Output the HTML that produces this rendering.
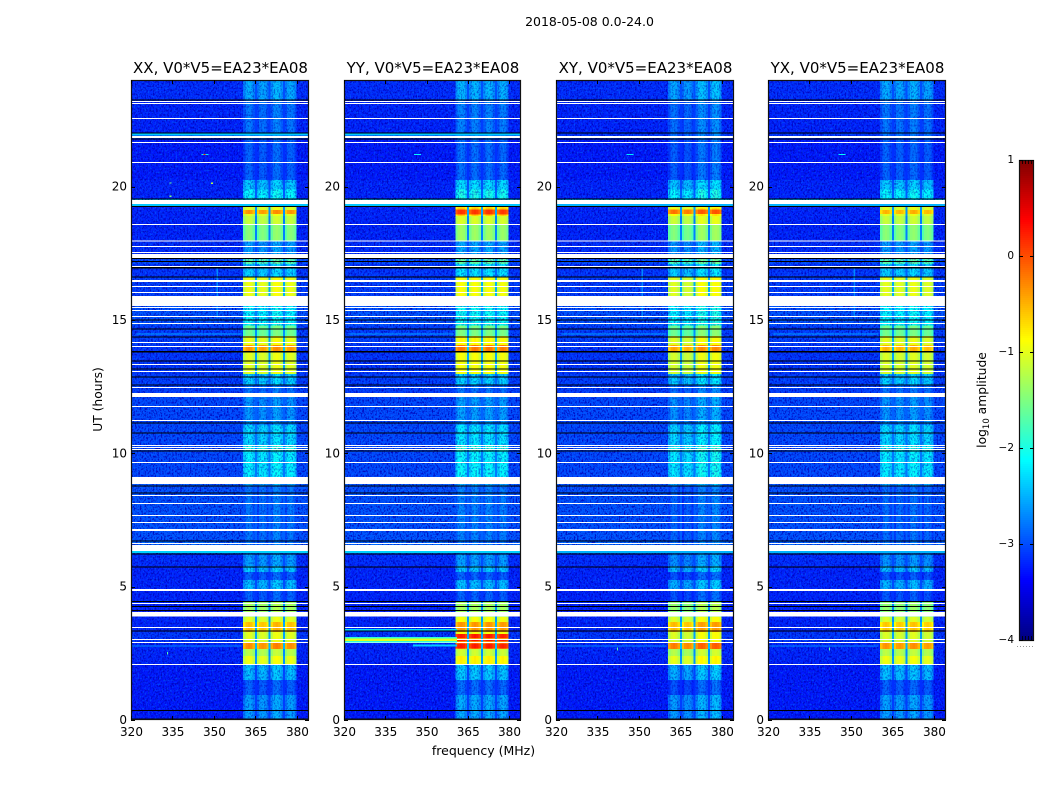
<!DOCTYPE html>
<html lang="en">
<head>
<meta charset="utf-8">
<title>Dynamic spectra 2018-05-08</title>
<style>
html,body{margin:0;padding:0;background:#fff;width:1050px;height:800px;overflow:hidden}
svg{display:block;font-family:"DejaVu Sans","Liberation Sans",sans-serif;fill:#000}
</style>
</head>
<body>
<svg id="chart" xmlns="http://www.w3.org/2000/svg" width="1050" height="800" viewBox="0 0 1050 800">
<defs id="defs">
<filter id="noise-dark" x="0" y="0" width="100%" height="100%" color-interpolation-filters="sRGB">
<feTurbulence type="fractalNoise" baseFrequency="0.62 0.48" numOctaves="2" seed="4"/>
<feColorMatrix type="matrix" values="0 0 0 0 0  0 0 0 0 0  0 0 0 0 0.72  4.2 0 0 0 -1.95"/>
</filter>
<filter id="noise-light" x="0" y="0" width="100%" height="100%" color-interpolation-filters="sRGB">
<feTurbulence type="fractalNoise" baseFrequency="0.58 0.5" numOctaves="2" seed="11"/>
<feColorMatrix type="matrix" values="0 0 0 0 0  0 0 0 0 0.45  0 0 0 0 1  0 4.2 0 0 -2.2"/>
</filter>
</defs>
<text x="589.5" y="26" font-size="12.5" text-anchor="middle">2018-05-08 0.0-24.0</text>
<text x="483.5" y="755" font-size="12.5" text-anchor="middle">frequency (MHz)</text>
<text transform="translate(102,399.5) rotate(-90)" font-size="12.3" text-anchor="middle">UT (hours)</text>
<text transform="translate(986,400) rotate(-90)" font-size="12.3" text-anchor="middle">log<tspan font-size="8.5" dy="3">10</tspan><tspan dy="-3"> amplitude</tspan></text>
<g id="panels"></g>
<g id="colorbar"></g>
</svg>
<script>
/* ---------- data ---------- */
const panelNames = ["XX", "YY", "XY", "YX"];
const panelTitleSuffix = ", V0*V5=EA23*EA08";
const freqTicks = [320, 335, 350, 365, 380];
const hourTicks = [0, 5, 10, 15, 20];
const colorbarTicks = [1, 0, -1, -2, -3, -4];

/* start hour of each time block (the last ends at 24 h) */
const blockStart = [0,0.94,1.5,2.06,2.4,2.66,2.89,3.3,3.68,3.86,4.46,4.88,5.25,5.55,5.78,6.2,6.71,8.775,9.11,10.09,10.3,11.06,12.11,12.56,12.97,13.81,14.06,14.4,14.8,15.53,15.9,16.6,17.1,17.31,17.97,18.9,19.2,19.35,19.54,19.9,20.25,21.8,22.01,23.25];
/* log10 amplitude away from the bands */
const backgroundLog = [-3.25,-3.25,-3.25,-3.2,-3.2,-3.2,-3.1,-3.2,-3.2,-3.2,-3.2,-3.2,-3.2,-3.2,-3.15,-2.85,-2.95,-2.9,-3,-3,-3,-3,-3.05,-3.05,-3.1,-3.1,-3.05,-3.05,-2.95,-2.95,-3.05,-3.1,-3,-3.15,-3.2,-3.2,-3.2,-2.25,-3.2,-3.2,-3.25,-3.1,-3.2,-3.15];
/* log10 amplitude inside the four bands, one array per polarisation */
const bandLogXX = [-2.55,-2.85,-2.4,-0.95,-1.2,-0.3,-1,-0.55,-1,-1.3,-2.85,-2.4,-2.85,-2.35,-2.55,-2.75,-2.75,-2.5,-2.15,-1.95,-2.25,-2.6,-2.75,-2.3,-1,-0.35,-0.95,-1.55,-2.1,-2.1,-0.95,-2.3,-1.7,-2.55,-1.45,-1,-1,-2.3,-2.1,-2.35,-2.85,-2.75,-2.75,-2.5];
const bandLogYY = [-2.5,-2.8,-2.35,-0.8,-1.1,-0.05,-0.9,-0.35,-0.9,-1.3,-2.85,-2.4,-2.85,-2.35,-2.55,-2.75,-2.7,-2.5,-2.1,-1.9,-2.2,-2.55,-2.75,-2.3,-0.9,-0.2,-0.85,-1.5,-2.05,-2.05,-0.9,-2.2,-1.65,-2.5,-1.35,-0.6,-0.7,-2.3,-2,-2.25,-2.8,-2.7,-2.7,-2.45];
const bandLogXY = [-2.55,-2.9,-2.45,-0.95,-1.2,-0.2,-1,-0.5,-1,-1.35,-2.9,-2.45,-2.9,-2.4,-2.6,-2.75,-2.8,-2.5,-2.15,-2,-2.25,-2.6,-2.75,-2.3,-1.05,-0.4,-1,-1.55,-2.1,-2.1,-1,-2.3,-1.7,-2.55,-1.45,-0.85,-1,-2.3,-2.1,-2.35,-2.85,-2.75,-2.75,-2.5];
const bandLogYX = [-2.55,-2.85,-2.4,-0.95,-1.2,-0.35,-1.05,-0.6,-1.05,-1.4,-2.9,-2.45,-2.9,-2.4,-2.6,-2.75,-2.8,-2.5,-2.15,-2,-2.25,-2.6,-2.75,-2.3,-1.05,-0.5,-1,-1.55,-2.1,-2.1,-1,-2.3,-1.7,-2.55,-1.45,-1,-1,-2.3,-2.1,-2.35,-2.85,-2.75,-2.75,-2.5];
const bandOffsets = [[0,-0.05,0.05,-0.02],[0,0,0,-0.03],[-0.03,-0.1,0.1,0.12],[0,-0.03,0.03,-0.05]];
/* shape across one band, equal slices, added to the band log10 amplitude */
const bandProfile = [-0.22, -0.03, 0.02, -0.03, -0.2];
/* narrow bright or dim streaks across the bands: [panel, start h, end h, log10 amp] */
const bandStreaks = [
 [0,18.97,19.13,-0.35],[1,18.95,19.15,0.12],[2,18.97,19.14,-0.15],[3,18.97,19.13,-0.5],
 [0,18.6,18.9,-1.15],[1,18.6,18.9,-1.05],[2,18.6,18.9,-1.1],[3,18.6,18.9,-1.15],
 [1,3.05,3.22,0.25],[1,2.95,3.0,0.3],[1,2.7,2.85,0.25]
];
/* channel edges in MHz: band edges with small gutters between the bands */
const bandStartMHz = [360.5, 365.5, 370.5, 375.6];
const bandEndMHz = [364.8, 369.8, 374.9, 379.9];
const freqMinMHz = 320;
const freqMaxMHz = 384;
/* bands brighter than this show no visible speckle */
const speckleCeilingLog = -1.6;

/* flagged time ranges, [start hour, end hour] */
const flaggedWhite = [[23.17,23.21],[23.10,23.14],[22.54,22.58],[21.82,21.90],[21.64,21.68],[20.89,20.93],[19.35,19.5],[18.56,18.6],[17.94,17.98],[17.74,17.78],[17.51,17.55],[17.33,17.48],[16.99,17.03],[16.43,16.5],[16.24,16.28],[16.01,16.05],[15.53,15.9],[15.45,15.49],[15.34,15.38],[15.11,15.15],[14.85,14.89],[14.14,14.18],[13.99,14.03],[13.31,13.35],[13.05,13.09],[12.45,12.49],[12.11,12.26],[11.74,11.78],[11.21,11.25],[10.28,10.31],[10.2,10.24],[10.13,10.16],[9.64,9.68],[8.85,9.11],[8.4,8.44],[8.1,8.14],[7.65,7.69],[7.39,7.43],[7.09,7.16],[6.6,6.64],[6.34,6.56],[4.84,4.91],[4.35,4.39],[3.88,4.05],[3.45,3.49],[3.0,3.04],[2.89,2.93],[2.06,2.1]];
const flaggedBlack = [[23.23,23.27],[21.99,22.03],[21.77,21.81],[19.52,19.56],[19.24,19.28],[17.29,17.33],[17.18,17.22],[16.94,16.98],[16.59,16.63],[14.98,15.02],[14.64,14.68],[14.34,14.38],[13.79,13.83],[13.44,13.48],[13.14,13.18],[12.85,12.89],[12.54,12.58],[11.12,11.16],[10.74,10.78],[10.07,10.11],[8.76,8.8],[8.5,8.54],[6.69,6.73],[6.2,6.25],[5.72,5.76],[4.42,4.46],[4.23,4.27],[4.08,4.12],[3.32,3.36],[0.33,0.37],[0,0.06]];

/* interference under the flags: [panel, start h, end h, start MHz, end MHz, log10 amp] */
const rfiUnder = [
 [0,21.92,22.0,320,384,-2.4],[1,21.92,22.0,320,384,-2.4],
 [0,19.28,19.35,320,384,-2.4],[1,19.28,19.35,320,384,-2.4],[2,19.28,19.35,320,384,-2.5],[3,19.28,19.35,320,384,-2.5],
 [0,6.26,6.34,320,384,-2.35],[1,6.26,6.34,320,384,-2.35],[2,6.26,6.34,320,384,-2.5],[3,6.26,6.34,320,384,-2.5],
 [1,3.36,3.42,320,361,-2.3],[1,2.76,2.84,345,361,-2.4],
 [0,15.1,16.95,351,351.5,-2.7],[3,15.1,16.95,351,351.5,-2.7],[2,15.1,16.95,351,351.5,-2.7],
 [0,14.45,14.5,322,360,-2.6],[1,14.45,14.5,322,360,-2.6],[2,14.45,14.5,322,360,-2.6],[3,14.45,14.5,322,360,-2.6],
 [0,2.75,2.8,320,360,-2.7],[2,2.75,2.8,320,360,-2.7],[3,2.75,2.8,320,360,-2.7]
];
/* interference over the flags */
const rfiOver = [
 [1,2.91,3.11,320,361,-1.9],[1,2.97,3.05,320,361,-1.0],
 [0,21.18,21.22,345.5,348,-2.2],[0,21.18,21.22,346.3,347,0.2],[1,21.18,21.22,345.5,348,-2.1],[2,21.18,21.22,345.5,348,-2.2],[3,21.18,21.22,345.5,348,-2.1],
 [0,20.11,20.15,334,334.6,-1.6],[0,19.62,19.66,334,334.6,-1.5],[0,20.1,20.15,349,349.6,-1.2],
 [0,2.45,2.55,333,333.4,-1.7],[2,2.6,2.72,342,342.5,-1.7],[3,2.6,2.72,342,342.5,-1.7]
];

/* ---------- layout ---------- */
const panelLeft = [131, 344, 556, 768];
const panelRight = [308, 520, 733, 945];
const plotTop = 80;
const plotBottom = 720;
const hoursMax = 24;
const cbLeft = 1019, cbRight = 1034, cbTop = 160, cbBottom = 640;
const cbMax = 1, cbMin = -4;
const SVGNS = "http://www.w3.org/2000/svg";

function xScale(panel, mhz) {
  return panelLeft[panel] + (mhz - freqMinMHz) / (freqMaxMHz - freqMinMHz) * (panelRight[panel] - panelLeft[panel]);
}
function yScale(hour) {
  return plotBottom - hour / hoursMax * (plotBottom - plotTop);
}
function cbScale(v) {
  return cbTop + (cbMax - v) / (cbMax - cbMin) * (cbBottom - cbTop);
}
function clamp01(v) { return Math.max(0, Math.min(1, v)); }
function jet(logAmp) {
  const t = clamp01((logAmp - cbMin) / (cbMax - cbMin));
  const r = clamp01(Math.min(4 * t - 1.5, -4 * t + 4.5));
  const g = clamp01(Math.min(4 * t - 0.5, -4 * t + 3.5));
  const b = clamp01(Math.min(4 * t + 0.5, -4 * t + 2.5));
  return "rgb(" + Math.round(r * 255) + "," + Math.round(g * 255) + "," + Math.round(b * 255) + ")";
}
function make(parent, tag, attrs, text) {
  const el = document.createElementNS(SVGNS, tag);
  for (const k in attrs) el.setAttribute(k, attrs[k]);
  if (text !== undefined) el.textContent = text;
  parent.appendChild(el);
  return el;
}
function cellRect(parent, panel, h0, h1, f0, f1, fill) {
  const x0 = xScale(panel, f0), x1 = xScale(panel, f1), yTop = yScale(h1), yBot = yScale(h0);
  return make(parent, "rect", {
    x: x0.toFixed(2), y: yTop.toFixed(2),
    width: (x1 - x0).toFixed(2), height: Math.max(1, yBot - yTop).toFixed(2),
    fill: fill, "shape-rendering": "crispEdges"
  });
}
function blockEnd(i) {
  return i + 1 < blockStart.length ? blockStart[i + 1] : hoursMax;
}
/* paints one band across its profile slices for a time range */
function drawBandSlices(parent, panel, band, h0, h1, level) {
  const f0 = bandStartMHz[band], f1 = bandEndMHz[band];
  const step = (f1 - f0) / bandProfile.length;
  bandProfile.forEach(function (shape, s) {
    const cell = cellRect(parent, panel, h0, h1, f0 + s * step, f0 + (s + 1) * step, jet(level + shape));
    
    
  });
}

/* ---------- panels ---------- */
const bandSeries = [bandLogXX, bandLogYY, bandLogXY, bandLogYX];
const panelsRoot = document.getElementById("panels");
const defsRoot = document.getElementById("defs");

panelNames.forEach(function (name, p) {
  const left = panelLeft[p], right = panelRight[p];
  const g = make(panelsRoot, "g", {});
  
  

  const title = make(g, "text", { x: (left + right) / 2 + 1, y: 73, "font-size": "15", "text-anchor": "middle" }, name + panelTitleSuffix);
  
  

  const heat = make(g, "g", {});
  
  

  const clipBg = make(defsRoot, "clipPath", { id: "speckle-bg-" + p });
  const clipBand = make(defsRoot, "clipPath", { id: "speckle-band-" + p });

  blockStart.forEach(function (h0, i) {
    const h1 = blockEnd(i);
    const bg = backgroundLog[i];
    const band = bandSeries[p][i];
    const gutter = bg + 0.25 * (band - bg);
    const base = cellRect(heat, p, h0, h1, freqMinMHz, freqMaxMHz, jet(bg));
    
    
    const gut = cellRect(heat, p, h0, h1, bandStartMHz[0], bandEndMHz[3], jet(gutter));
    
    
    bandStartMHz.forEach(function (f0, b) {
      drawBandSlices(heat, p, b, h0, h1, band + bandOffsets[p][b]);
      if (band < speckleCeilingLog) cellRect(clipBand, p, h0, h1, f0, bandEndMHz[b], "#000");
    });
    cellRect(clipBg, p, h0, h1, freqMinMHz, bandStartMHz[0], "#000");
    cellRect(clipBg, p, h0, h1, bandEndMHz[3], freqMaxMHz, "#000");
  });

  bandStreaks.forEach(function (r) {
    if (r[0] !== p) return;
    bandStartMHz.forEach(function (f0, b) {
      drawBandSlices(heat, p, b, r[1], r[2], r[3] + bandOffsets[p][b]);
    });
  });

  const w = right - left, h = plotBottom - plotTop;
  const speckle = make(g, "g", { "clip-path": "url(#speckle-bg-" + p + ")" });
  
  
  const nd = make(speckle, "rect", { x: left, y: plotTop, width: w, height: h, filter: "url(#noise-dark)", opacity: "0.85" });
  
  
  const nl = make(speckle, "rect", { x: left, y: plotTop, width: w, height: h, filter: "url(#noise-light)", opacity: "0.5" });
  
  

  const speckleB = make(g, "g", { "clip-path": "url(#speckle-band-" + p + ")" });
  
  
  const nbd = make(speckleB, "rect", { x: left, y: plotTop, width: w, height: h, filter: "url(#noise-dark)", opacity: "0.45" });
  
  

  rfiUnder.forEach(function (r) {
    if (r[0] !== p) return;
    const el = cellRect(g, p, r[1], r[2], r[3], r[4], jet(r[5]));
    
    
  });
  flaggedWhite.forEach(function (r) {
    const el = cellRect(g, p, r[0], r[1], freqMinMHz, freqMaxMHz, "#fff");
    
    
  });
  flaggedBlack.forEach(function (r) {
    const el = cellRect(g, p, r[0], r[1], freqMinMHz, freqMaxMHz, "#000");
    
    
  });
  rfiOver.forEach(function (r) {
    if (r[0] !== p) return;
    const el = cellRect(g, p, r[1], r[2], r[3], r[4], jet(r[5]));
    
    
  });

  const frame = make(g, "rect", { x: left + 0.5, y: plotTop + 0.5, width: w, height: h - 1, fill: "none", stroke: "#111", "stroke-width": "1.2" });
  
  

  freqTicks.forEach(function (f) {
    const x = Math.round(xScale(p, f)) + 0.5;
    const tb = make(g, "path", { d: "M" + x + " " + plotBottom + "v-4M" + x + " " + plotTop + "v4", stroke: "#000", "stroke-width": "1" });
    
    
    const lb = make(g, "text", { x: xScale(p, f) + 0.5, y: 736, "font-size": "12", "text-anchor": "middle" }, String(f));
    
    
  });
  hourTicks.forEach(function (hr) {
    const y = Math.round(yScale(hr)) + 0.5;
    const tk = make(g, "path", { d: "M" + left + " " + y + "h4M" + (right + 1) + " " + y + "h-4", stroke: "#000", "stroke-width": "1" });
    
    
    const lb = make(g, "text", { x: left - 4, y: yScale(hr) + 4, "font-size": "12", "text-anchor": "end" }, String(hr));
    
    
  });
});

/* ---------- colorbar ---------- */
const cbRoot = document.getElementById("colorbar");
for (let y = cbTop; y < cbBottom; y += 2) {
  const v = cbMax - (y + 1 - cbTop) / (cbBottom - cbTop) * (cbMax - cbMin);
  const strip = make(cbRoot, "rect", { x: cbLeft, y: y, width: cbRight - cbLeft, height: 2, fill: jet(v), "shape-rendering": "crispEdges" });
  
  
}
const cbFrame = make(cbRoot, "rect", { x: cbLeft + 0.5, y: cbTop + 0.5, width: cbRight - cbLeft - 1, height: cbBottom - cbTop, fill: "none", stroke: "#111", "stroke-width": "1.2" });


colorbarTicks.forEach(function (v) {
  const y = Math.round(cbScale(v)) + 0.5;
  const tk = make(cbRoot, "path", { d: "M" + cbLeft + " " + y + "h4M" + cbRight + " " + y + "h-4", stroke: "#000", "stroke-width": "1" });
  
  
  const lb = make(cbRoot, "text", { x: cbLeft - 5, y: cbScale(v) + 3, "font-size": "10.5", "text-anchor": "end" }, v < 0 ? "\u2212" + Math.abs(v) : String(v));
  
  
});
const minorOffsets = [3, 6, 9, 12];
minorOffsets.forEach(function (dx) {
  const m = make(cbRoot, "path", { d: "M" + (cbLeft + dx + 0.5) + " " + cbTop + "v4M" + (cbLeft + dx + 0.5) + " " + cbBottom + "v-4", stroke: "#000", "stroke-width": "0.8" });
  
  
});
const dots = make(cbRoot, "path", { d: "M1017 646.5H1035", stroke: "#999", "stroke-width": "1", "stroke-dasharray": "1 2" });


</script>
</body>
</html>
